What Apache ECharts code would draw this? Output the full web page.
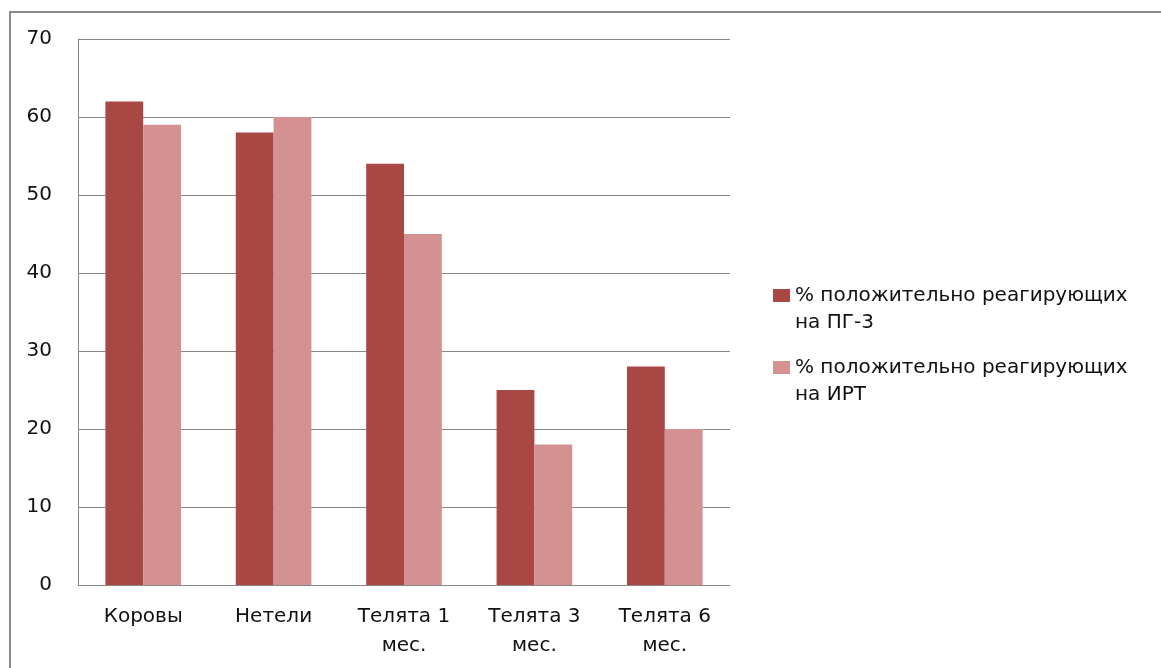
<!DOCTYPE html>
<html><head><meta charset="utf-8">
<script src="https://cdn.jsdelivr.net/npm/echarts@6/dist/echarts.min.js"></script>
<style>html,body{margin:0;padding:0;background:#fff}#c{width:1161px;height:668px}</style>
</head><body><div id="c"></div>
<script>
const categories = ['Коровы', 'Нетели', 'Телята 1\nмес.', 'Телята 3\nмес.', 'Телята 6\nмес.'];
const seriesNames = ['% положительно реагирующих\nна ПГ-3', '% положительно реагирующих\nна ИРТ'];
const valuesPG3 = [62, 58, 54, 25, 28];
const valuesIRT = [59, 60, 45, 18, 20];
const yTicks = {min: 0, max: 70, interval: 10};

const FONT = 'DejaVu Sans';
const FS = 20;
const chart = echarts.init(document.getElementById('c'), null, {renderer: 'canvas'});
const legendText = {
  fontFamily: FONT, fontSize: FS, color: '#111', lineHeight: 27,
  rich: {
    e: {fontFamily: FONT, fontSize: FS, lineHeight: 27},
    t: {fontFamily: FONT, fontSize: FS, color: '#111', lineHeight: 27}
  }
};
const legendFormatter = function (name) {
  return '{e| }\n' + name.split('\n').map(function (s) { return '{t|' + s + '}'; }).join('\n');
};
chart.setOption({
  animation: false,
  backgroundColor: '#fff',
  graphic: [{type: 'rect', shape: {x: 10, y: 12, width: 1300, height: 800}, style: {fill: 'none', stroke: '#8a8a8a', lineWidth: 2}, silent: true}],
  grid: {left: 78, right: 431, top: 39, bottom: 83, containLabel: false},
  legend: [
    {data: [seriesNames[0]], orient: 'vertical', left: 773, top: 255, padding: 0, itemWidth: 17, itemHeight: 13, itemGap: 0, textStyle: legendText, formatter: legendFormatter, icon: 'rect'},
    {data: [seriesNames[1]], orient: 'vertical', left: 773, top: 327, padding: 0, itemWidth: 17, itemHeight: 13, itemGap: 0, textStyle: legendText, formatter: legendFormatter, icon: 'rect'}
  ],
  xAxis: {
    type: 'category', data: categories,
    axisLine: {show: true, lineStyle: {color: '#888', width: 1}},
    axisTick: {show: false},
    axisLabel: {fontFamily: FONT, fontSize: FS, color: '#111', lineHeight: 29, margin: 17, interval: 0}
  },
  yAxis: {
    type: 'value', min: yTicks.min, max: yTicks.max, interval: yTicks.interval,
    axisLine: {show: true, lineStyle: {color: '#888', width: 1}},
    axisTick: {show: false},
    splitLine: {show: true, lineStyle: {color: '#888', width: 1}},
    axisLabel: {fontFamily: FONT, fontSize: FS, color: '#111', margin: 26}
  },
  series: [
    {name: seriesNames[0], type: 'bar', data: valuesPG3, itemStyle: {color: '#A94745'}, barGap: '0%', barCategoryGap: '42%'},
    {name: seriesNames[1], type: 'bar', data: valuesIRT, itemStyle: {color: '#D39291'}, barGap: '0%', barCategoryGap: '42%'}
  ]
});
</script></body></html>
